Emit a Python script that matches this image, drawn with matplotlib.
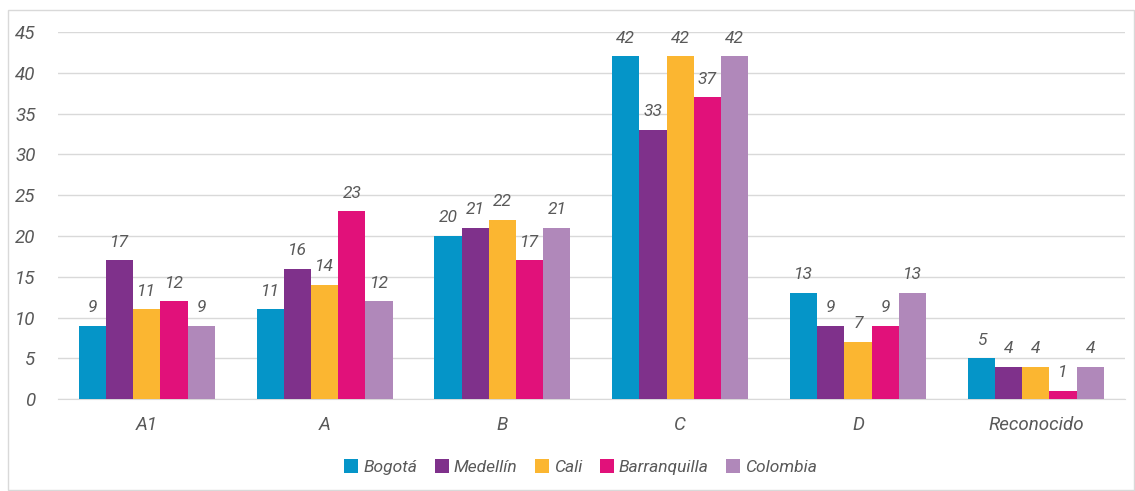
import numpy as np
import matplotlib.pyplot as plt
from matplotlib.patches import Rectangle

categories = ["A1", "A", "B", "C", "D", "Reconocido"]
series_names = ["Bogotá", "Medellín", "Cali", "Barranquilla", "Colombia"]
bogota = [9, 11, 20, 42, 13, 5]
medellin = [17, 16, 21, 33, 9, 4]
cali = [11, 14, 22, 42, 7, 4]
barranquilla = [12, 23, 17, 37, 9, 1]
colombia = [9, 12, 21, 42, 13, 4]
colors = ["#0595C8", "#7F318B", "#FBB631", "#E1117A", "#B088BA"]

plt.rcParams['font.family'] = ['Roboto', 'DejaVu Sans']
plt.rcParams['font.style'] = 'italic'
text_color = "#595959"

fig = plt.figure(figsize=(11.35, 4.91), dpi=100)
fig.patches.append(Rectangle((8 / 1135, 1 / 491), 1126 / 1135, 480 / 491,
                             transform=fig.transFigure, fill=False,
                             edgecolor="#D9D9D9", linewidth=1))
ax = fig.add_axes([0.051, 0.187, 0.94, 0.748])

data = [bogota, medellin, cali, barranquilla, colombia]
x = np.arange(len(categories))
w = 0.153
for i, (name, vals, c) in enumerate(zip(series_names, data, colors)):
    pos = x + (i - 2) * w
    bars = ax.bar(pos, vals, width=w, color=c, label=name, zorder=3)
    for b, v in zip(bars, vals):
        ax.text(b.get_x() + b.get_width() / 2, v + 1.3, str(v),
                ha="center", va="bottom", fontsize=12.5, color=text_color)

ax.set_xlim(-0.5, len(categories) - 0.5)
ax.set_ylim(0, 45)
ax.set_yticks(range(0, 46, 5))
ax.set_xticks(x)
ax.set_xticklabels(categories)
ax.yaxis.grid(True, color="#D9D9D9", linewidth=1, zorder=0)
for s in ["top", "right", "left"]:
    ax.spines[s].set_visible(False)
ax.spines["bottom"].set_color("#D9D9D9")
ax.tick_params(axis="both", length=0, labelsize=13.5, colors=text_color)
ax.tick_params(axis="x", pad=12)
ax.tick_params(axis="y", pad=16)

ax.legend(loc="center", bbox_to_anchor=(0.49, -0.185), ncol=5, frameon=False,
          fontsize=12.5, labelcolor=text_color, handlelength=0.8, handleheight=0.8,
          handletextpad=0.3, columnspacing=1.0)

fig.savefig("out.png", dpi=100)
